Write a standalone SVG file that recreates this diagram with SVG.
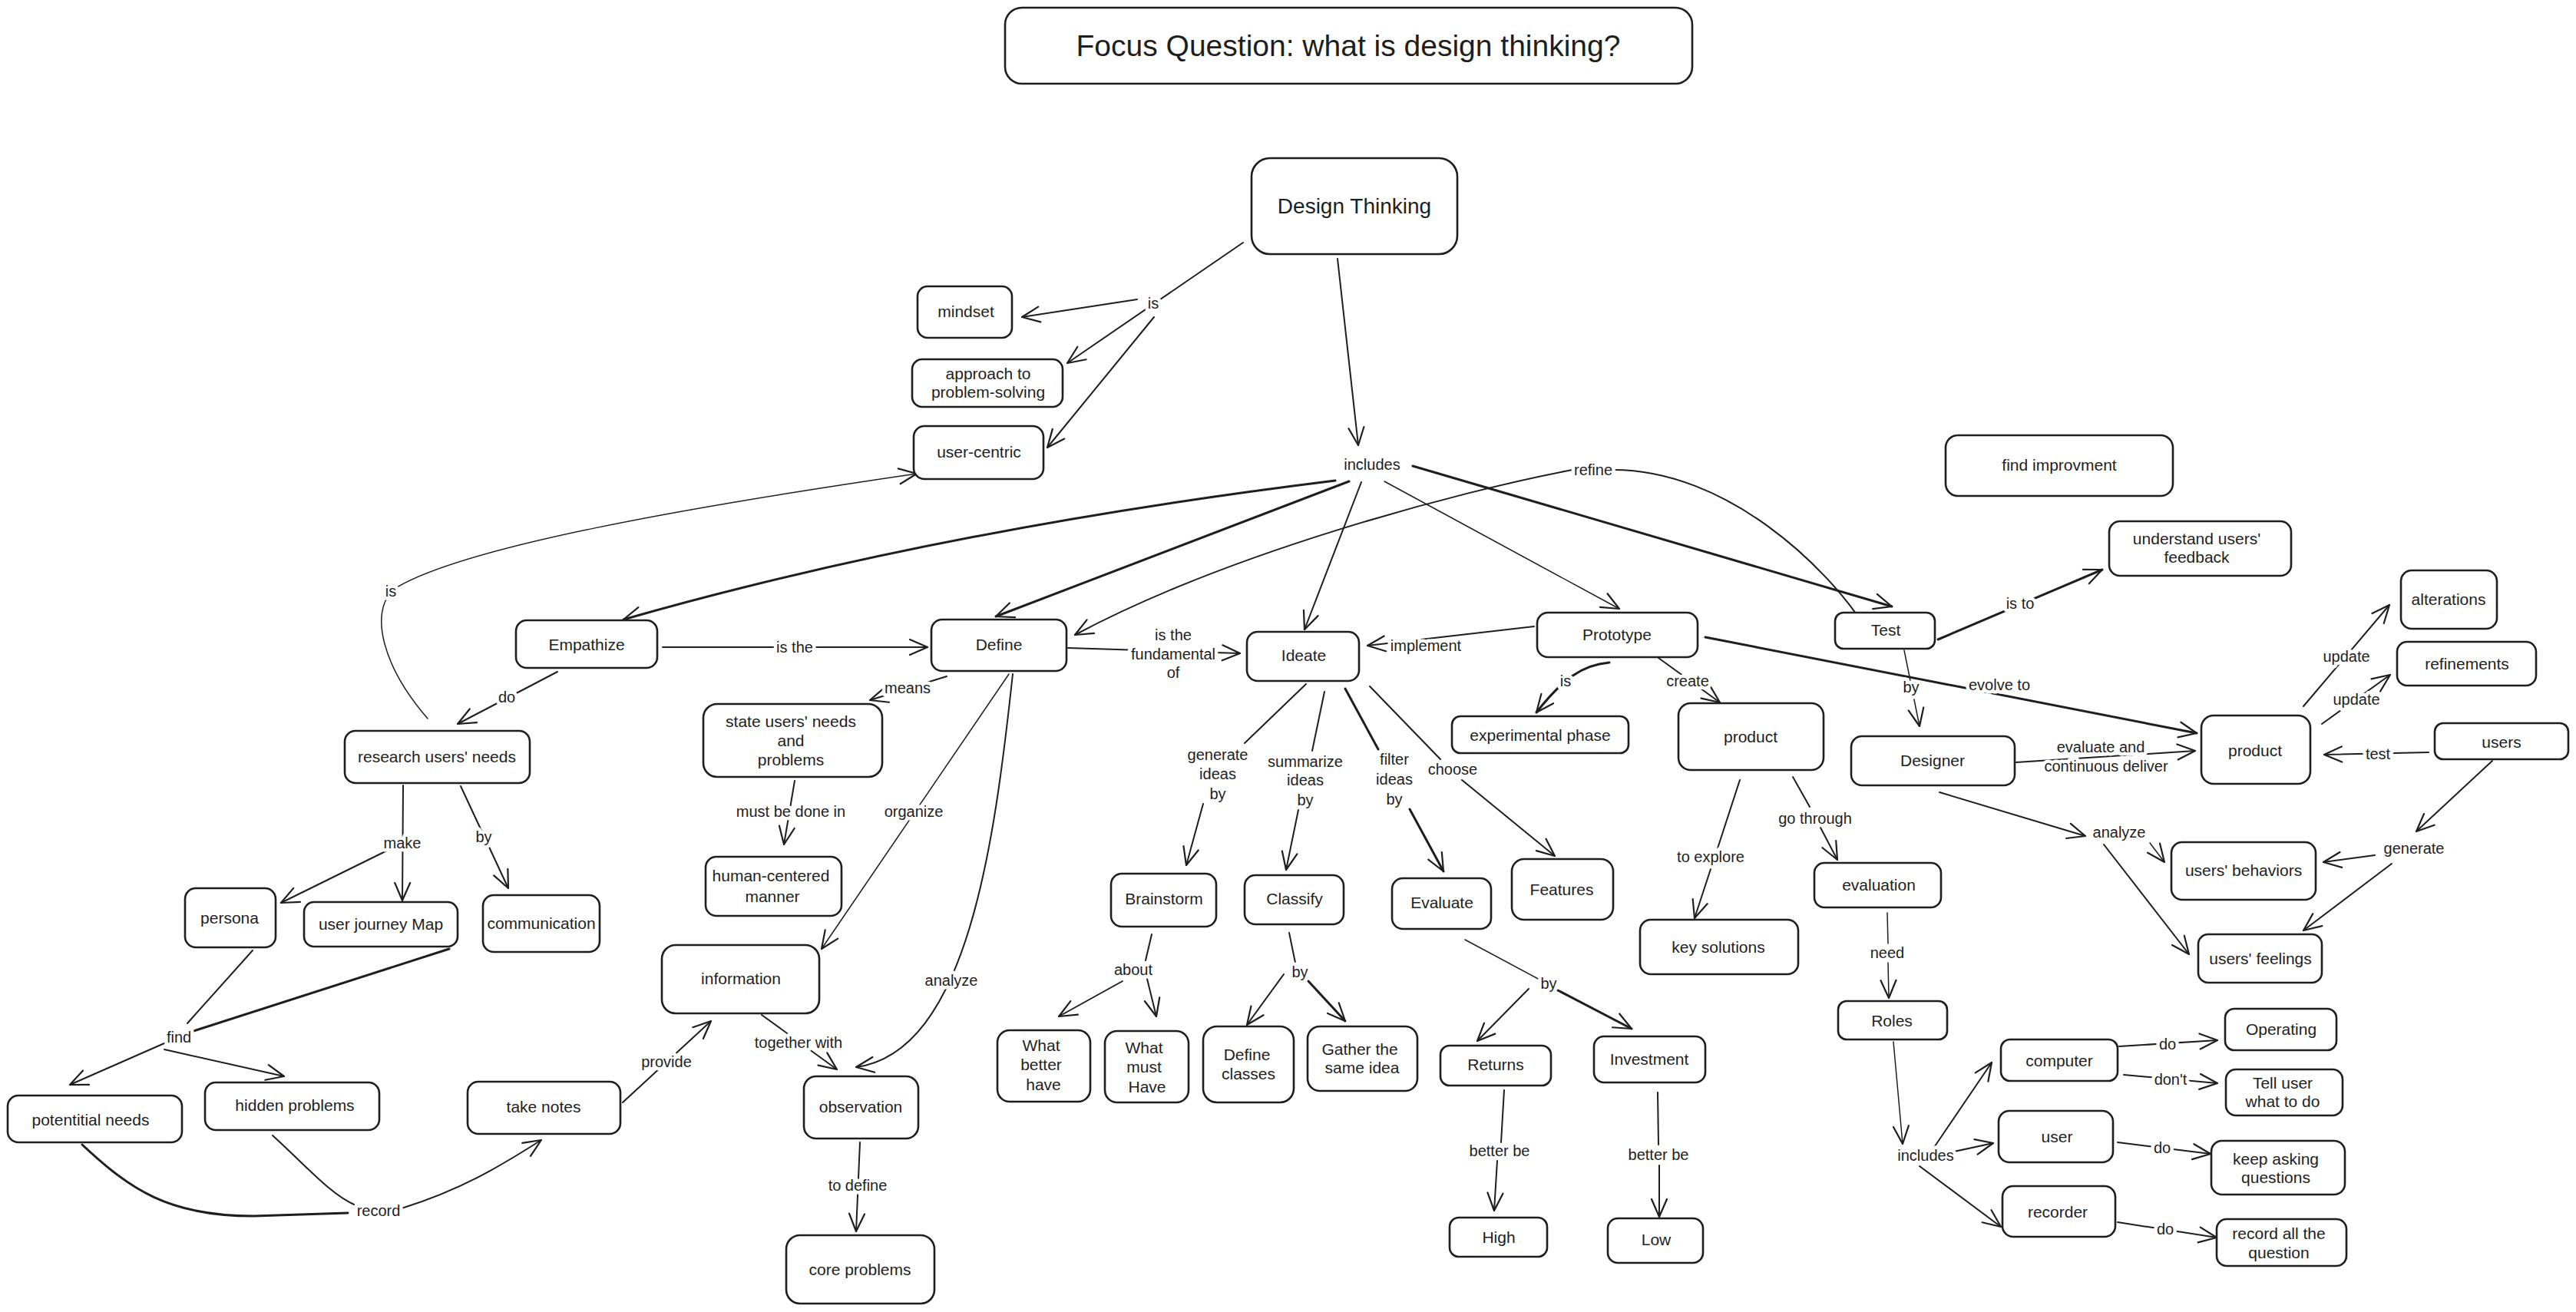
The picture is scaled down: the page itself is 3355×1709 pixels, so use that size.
<svg xmlns="http://www.w3.org/2000/svg" width="3355" height="1709" viewBox="0 0 3355 1709">
<defs>
<style>
.n rect{fill:#fff;stroke:#1e1e1e;stroke-width:2.6}
.t{font-family:"Liberation Sans",Arial,sans-serif;font-size:21px;fill:#1e1e1e;text-anchor:middle}
.c path{fill:none;stroke:#1e1e1e;stroke-width:2;stroke-linecap:round;stroke-linejoin:round}
.c path.k{stroke-width:3}
.c path.f{stroke-width:1.5}
.c path.a{marker-end:url(#ah)}
.lb{font-family:"Liberation Sans",Arial,sans-serif;font-size:20px;fill:#1e1e1e;text-anchor:middle;stroke:#fff;stroke-width:9px;paint-order:stroke;stroke-linejoin:round}
</style>
<marker id="ah" viewBox="0 0 28 24" refX="25" refY="12" markerWidth="28" markerHeight="24" markerUnits="userSpaceOnUse" orient="auto">
<path d="M2,2 L25,12 L2,22" fill="none" stroke="#1e1e1e" stroke-width="2.2" stroke-linecap="round" stroke-linejoin="round"/>
</marker>
</defs>
<rect x="0" y="0" width="3355" height="1709" fill="#fff"/>

<g id="connectors" class="c">
<!-- Design Thinking -->
<path class="a" d="M1619,316 L1390,473"/>
<path class="a" d="M1481,390 L1331,413"/>
<path class="a" d="M1503,413 L1364,583"/>
<path class="a" d="M1742,337 L1769,580"/>
<!-- includes -->
<path class="a k" d="M1739,626 Q1220,690 812,807"/>
<path class="a k" d="M1757,627 L1297,803"/>
<path class="a" d="M1773,628 L1699,820"/>
<path class="a f" d="M1803,627 L2109,793"/>
<path class="a k" d="M1840,607 L2464,790"/>
<path class="a" d="M2428,815 C2380,740 2250,612 2101,612 L2048,612 C1900,640 1600,720 1400,827"/>
<!-- left branch -->
<path class="a f" d="M557,936 C500,870 480,800 512,768 C600,712 900,660 1194,617"/>
<path class="a" d="M726,875 L596,943"/>
<path class="a" d="M863,843 L1208,843"/>
<path class="a" d="M525,1023 L524,1173"/>
<path class="a" d="M504,1108 L366,1176"/>
<path class="a" d="M600,1024 L662,1157"/>
<path d="M329,1238 L244,1333"/>
<path class="k" d="M585,1236 L249,1344"/>
<path class="a" d="M214,1359 L91,1413"/>
<path class="a" d="M214,1367 L370,1402"/>
<path class="k" d="M107,1491 C170,1550 220,1584 330,1584 L453,1580"/>
<path d="M355,1479 C400,1520 430,1555 461,1569"/>
<path class="a" d="M523,1574 C600,1550 650,1520 705,1485"/>
<path class="a" d="M811,1436 L926,1330"/>
<!-- Define -->
<path class="a" d="M1391,844 L1615,851"/>
<path class="a" d="M1233,881 L1133,912"/>
<path class="a" d="M1035,1017 L1021,1100"/>
<path class="a f" d="M1314,878 L1070,1236"/>
<path class="a" d="M1319,878 C1295,1100 1260,1370 1115,1390"/>
<path class="a" d="M992,1322 L1090,1393"/>
<path class="a" d="M1120,1488 L1115,1604"/>
<!-- Ideate -->
<path class="a" d="M1998,816 L1781,841"/>
<path class="a" d="M1701,891 L1621,968 M1567,1047 L1545,1127"/>
<path class="a" d="M1725,901 L1709,978 M1691,1055 L1675,1133"/>
<path class="a k" d="M1752,897 L1795,976 M1836,1054 L1880,1135"/>
<path class="a" d="M1784,894 L1876,989 M1904,1016 L2025,1115"/>
<path d="M1500,1217 L1492,1251"/>
<path class="a" d="M1462,1278 L1379,1324"/>
<path class="a" d="M1494,1275 L1506,1324"/>
<path d="M1679,1215 L1687,1254"/>
<path class="a" d="M1672,1269 L1624,1335"/>
<path class="a k" d="M1704,1278 L1752,1330"/>
<path class="f" d="M1908,1224 L2007,1277"/>
<path class="a k" d="M2029,1290 L2125,1340"/>
<path class="a" d="M1991,1288 L1924,1356"/>
<path class="a" d="M1959,1420 L1955,1488 M1950,1512 L1946,1577"/>
<path class="a" d="M2159,1423 L2160,1491 M2161,1518 L2161,1585"/>
<!-- Prototype -->
<path class="a k" d="M2096,863 C2060,866 2035,885 2001,928"/>
<path class="a" d="M2160,857 L2240,915"/>
<path class="a" d="M2266,1016 L2237,1105 M2229,1129 L2207,1196"/>
<path class="a" d="M2335,1012 L2357,1051 M2371,1078 L2393,1120"/>
<path class="a f" d="M2458,1189 L2459,1229 M2459,1254 L2460,1300"/>
<path class="a f" d="M2466,1357 L2478,1490"/>
<path class="a" d="M2520,1493 L2594,1384"/>
<path class="a" d="M2536,1502 L2596,1489"/>
<path class="a" d="M2500,1519 L2606,1598"/>
<path class="a" d="M2760,1363 L2888,1355"/>
<path class="a" d="M2766,1400 L2888,1411"/>
<path class="a" d="M2758,1488 L2879,1503"/>
<path class="a" d="M2758,1592 L2887,1612"/>
<!-- Test -->
<path class="a k" d="M2524,833 L2738,742"/>
<path class="a f" d="M2480,847 L2500,946"/>
<path class="a k" d="M2221,830 L2861,955"/>
<path class="a" d="M2626,993 L2859,978"/>
<path class="a" d="M3000,920 L3112,788"/>
<path class="a" d="M3024,943 L3113,879"/>
<path class="a" d="M3163,980 L3027,983"/>
<path class="a" d="M2526,1032 L2716,1089"/>
<path class="a f" d="M2800,1098 L2819,1123"/>
<path class="a" d="M2740,1100 L2851,1243"/>
<path class="a" d="M3246,991 L3147,1083"/>
<path class="a" d="M3093,1114 L3026,1123"/>
<path class="a" d="M3115,1125 L3000,1212"/>

<!-- labels -->
<text class="lb" x="1502" y="402">is</text>
<text class="lb" x="1787" y="612">includes</text>
<text class="lb" x="2075" y="619">refine</text>
<text class="lb" x="509" y="777">is</text>
<text class="lb" x="660" y="915">do</text>
<text class="lb" x="1035" y="850">is the</text>
<text class="lb" x="524" y="1105">make</text>
<text class="lb" x="630" y="1097">by</text>
<text class="lb" x="233" y="1358">find</text>
<text class="lb" x="493" y="1584">record</text>
<text class="lb" x="868" y="1390">provide</text>
<text class="lb" x="1528" y="834">is the</text>
<text class="lb" x="1528" y="859">fundamental</text>
<text class="lb" x="1528" y="883">of</text>
<text class="lb" x="1182" y="903">means</text>
<text class="lb" x="1030" y="1064">must be done in</text>
<text class="lb" x="1190" y="1064">organize</text>
<text class="lb" x="1239" y="1284">analyze</text>
<text class="lb" x="1040" y="1365">together with</text>
<text class="lb" x="1117" y="1551">to define</text>
<text class="lb" x="1857" y="848">implement</text>
<text class="lb" x="1586" y="990">generate</text>
<text class="lb" x="1586" y="1015">ideas</text>
<text class="lb" x="1586" y="1041">by</text>
<text class="lb" x="1700" y="999">summarize</text>
<text class="lb" x="1700" y="1023">ideas</text>
<text class="lb" x="1700" y="1049">by</text>
<text class="lb" x="1816" y="996">filter</text>
<text class="lb" x="1816" y="1022">ideas</text>
<text class="lb" x="1816" y="1048">by</text>
<text class="lb" x="1892" y="1009">choose</text>
<text class="lb" x="1476" y="1270">about</text>
<text class="lb" x="1693" y="1273">by</text>
<text class="lb" x="2017" y="1288">by</text>
<text class="lb" x="1953" y="1506">better be</text>
<text class="lb" x="2160" y="1511">better be</text>
<text class="lb" x="2039" y="894">is</text>
<text class="lb" x="2198" y="894">create</text>
<text class="lb" x="2228" y="1123">to explore</text>
<text class="lb" x="2364" y="1073">go through</text>
<text class="lb" x="2458" y="1248">need</text>
<text class="lb" x="2508" y="1512">includes</text>
<text class="lb" x="2823" y="1367">do</text>
<text class="lb" x="2827" y="1413">don't</text>
<text class="lb" x="2816" y="1502">do</text>
<text class="lb" x="2820" y="1608">do</text>
<text class="lb" x="2631" y="793">is to</text>
<text class="lb" x="2489" y="902">by</text>
<text class="lb" x="2604" y="899">evolve to</text>
<text class="lb" x="2736" y="980">evaluate and</text>
<text class="lb" x="2743" y="1005">continuous deliver</text>
<text class="lb" x="3056" y="862">update</text>
<text class="lb" x="3069" y="918">update</text>
<text class="lb" x="3097" y="989">test</text>
<text class="lb" x="2760" y="1091">analyze</text>
<text class="lb" x="3144" y="1112">generate</text>
</g>

<g id="title" class="n"><rect x="1309" y="10" width="895" height="99" rx="22"/><text class="t" x="1756" y="73" style="font-size:39px">Focus Question: what is design thinking?</text></g>
<g id="design-thinking" class="n"><rect x="1630" y="206" width="268" height="125" rx="24"/><text class="t" x="1764" y="278" style="font-size:28px">Design Thinking</text></g>
<g id="mindset" class="n"><rect x="1195" y="373" width="123" height="67" rx="13"/><text class="t" x="1258" y="413">mindset</text></g>
<g id="approach" class="n"><rect x="1188" y="468" width="196" height="62" rx="13"/><text class="t" x="1287" y="494">approach to</text><text class="t" x="1287" y="518">problem-solving</text></g>
<g id="user-centric" class="n"><rect x="1190" y="555" width="169" height="69" rx="14"/><text class="t" x="1275" y="596">user-centric</text></g>
<g id="empathize" class="n"><rect x="672" y="808" width="184" height="62" rx="14"/><text class="t" x="764" y="847">Empathize</text></g>
<g id="define" class="n"><rect x="1213" y="807" width="176" height="67" rx="14"/><text class="t" x="1301" y="847">Define</text></g>
<g id="ideate" class="n"><rect x="1624" y="823" width="146" height="64" rx="14"/><text class="t" x="1698" y="861">Ideate</text></g>
<g id="prototype" class="n"><rect x="2002" y="798" width="209" height="58" rx="14"/><text class="t" x="2106" y="834">Prototype</text></g>
<g id="test" class="n"><rect x="2390" y="798" width="130" height="47" rx="11"/><text class="t" x="2456" y="828">Test</text></g>
<g id="find-improvment" class="n"><rect x="2534" y="567" width="296" height="79" rx="16"/><text class="t" x="2682" y="613">find improvment</text></g>
<g id="feedback" class="n"><rect x="2747" y="679" width="237" height="71" rx="14"/><text class="t" x="2861" y="709">understand users'</text><text class="t" x="2861" y="733">feedback</text></g>
<g id="alterations" class="n"><rect x="3127" y="743" width="125" height="76" rx="14"/><text class="t" x="3189" y="788">alterations</text></g>
<g id="refinements" class="n"><rect x="3122" y="836" width="181" height="57" rx="13"/><text class="t" x="3213" y="872">refinements</text></g>
<g id="product-right" class="n"><rect x="2867" y="932" width="142" height="89" rx="16"/><text class="t" x="2937" y="985">product</text></g>
<g id="designer" class="n"><rect x="2411" y="959" width="213" height="64" rx="14"/><text class="t" x="2517" y="998">Designer</text></g>
<g id="users" class="n"><rect x="3171" y="942" width="174" height="47" rx="11"/><text class="t" x="3258" y="974">users</text></g>
<g id="behaviors" class="n"><rect x="2828" y="1097" width="188" height="75" rx="14"/><text class="t" x="2922" y="1141">users' behaviors</text></g>
<g id="feelings" class="n"><rect x="2863" y="1217" width="161" height="63" rx="13"/><text class="t" x="2944" y="1256">users' feelings</text></g>
<g id="research" class="n"><rect x="449" y="952" width="241" height="68" rx="14"/><text class="t" x="569" y="993">research users' needs</text></g>
<g id="persona" class="n"><rect x="241" y="1157" width="118" height="77" rx="14"/><text class="t" x="299" y="1203">persona</text></g>
<g id="journey-map" class="n"><rect x="396" y="1175" width="200" height="58" rx="13"/><text class="t" x="496" y="1211">user journey Map</text></g>
<g id="communication" class="n"><rect x="629" y="1166" width="152" height="74" rx="14"/><text class="t" x="705" y="1210">communication</text></g>
<g id="potential-needs" class="n"><rect x="10" y="1427" width="227" height="61" rx="14"/><text class="t" x="118" y="1466">potentitial needs</text></g>
<g id="hidden-problems" class="n"><rect x="267" y="1410" width="227" height="62" rx="14"/><text class="t" x="384" y="1447">hidden problems</text></g>
<g id="take-notes" class="n"><rect x="609" y="1409" width="199" height="68" rx="14"/><text class="t" x="708" y="1449">take notes</text></g>
<g id="state-needs" class="n"><rect x="916" y="917" width="233" height="95" rx="18"/><text class="t" x="1030" y="947">state users' needs</text><text class="t" x="1030" y="972">and</text><text class="t" x="1030" y="997">problems</text></g>
<g id="human-centered" class="n"><rect x="919" y="1116" width="177" height="77" rx="14"/><text class="t" x="1004" y="1148">human-centered</text><text class="t" x="1006" y="1175">manner</text></g>
<g id="information" class="n"><rect x="862" y="1231" width="205" height="89" rx="18"/><text class="t" x="965" y="1282">information</text></g>
<g id="observation" class="n"><rect x="1047" y="1402" width="149" height="81" rx="16"/><text class="t" x="1121" y="1449">observation</text></g>
<g id="core-problems" class="n"><rect x="1024" y="1609" width="193" height="89" rx="18"/><text class="t" x="1120" y="1661">core problems</text></g>
<g id="experimental" class="n"><rect x="1891" y="933" width="230" height="48" rx="11"/><text class="t" x="2006" y="965">experimental phase</text></g>
<g id="product-mid" class="n"><rect x="2186" y="916" width="189" height="87" rx="16"/><text class="t" x="2280" y="967">product</text></g>
<g id="brainstorm" class="n"><rect x="1447" y="1138" width="137" height="69" rx="14"/><text class="t" x="1516" y="1178">Brainstorm</text></g>
<g id="classify" class="n"><rect x="1621" y="1140" width="129" height="64" rx="14"/><text class="t" x="1686" y="1178">Classify</text></g>
<g id="evaluate" class="n"><rect x="1813" y="1144" width="129" height="66" rx="14"/><text class="t" x="1878" y="1183">Evaluate</text></g>
<g id="features" class="n"><rect x="1969" y="1119" width="132" height="79" rx="16"/><text class="t" x="2034" y="1166">Features</text></g>
<g id="what-better" class="n"><rect x="1299" y="1342" width="121" height="93" rx="16"/><text class="t" x="1356" y="1369">What</text><text class="t" x="1356" y="1394">better</text><text class="t" x="1359" y="1420">have</text></g>
<g id="what-must" class="n"><rect x="1439" y="1343" width="109" height="93" rx="16"/><text class="t" x="1490" y="1372">What</text><text class="t" x="1490" y="1397">must</text><text class="t" x="1494" y="1423">Have</text></g>
<g id="define-classes" class="n"><rect x="1567" y="1337" width="118" height="99" rx="18"/><text class="t" x="1624" y="1381">Define</text><text class="t" x="1626" y="1406">classes</text></g>
<g id="gather" class="n"><rect x="1703" y="1337" width="143" height="84" rx="16"/><text class="t" x="1771" y="1374">Gather the</text><text class="t" x="1774" y="1398">same idea</text></g>
<g id="returns" class="n"><rect x="1876" y="1362" width="144" height="52" rx="12"/><text class="t" x="1948" y="1394">Returns</text></g>
<g id="investment" class="n"><rect x="2076" y="1350" width="145" height="60" rx="13"/><text class="t" x="2148" y="1387">Investment</text></g>
<g id="high" class="n"><rect x="1888" y="1586" width="127" height="51" rx="12"/><text class="t" x="1952" y="1619">High</text></g>
<g id="low" class="n"><rect x="2094" y="1587" width="124" height="58" rx="13"/><text class="t" x="2157" y="1622">Low</text></g>
<g id="key-solutions" class="n"><rect x="2136" y="1198" width="206" height="71" rx="14"/><text class="t" x="2238" y="1241">key solutions</text></g>
<g id="evaluation" class="n"><rect x="2363" y="1124" width="165" height="58" rx="13"/><text class="t" x="2447" y="1160">evaluation</text></g>
<g id="roles" class="n"><rect x="2394" y="1304" width="142" height="50" rx="11"/><text class="t" x="2464" y="1337">Roles</text></g>
<g id="computer" class="n"><rect x="2606" y="1354" width="152" height="54" rx="12"/><text class="t" x="2682" y="1389">computer</text></g>
<g id="user" class="n"><rect x="2603" y="1447" width="149" height="67" rx="14"/><text class="t" x="2679" y="1488">user</text></g>
<g id="recorder" class="n"><rect x="2608" y="1545" width="147" height="66" rx="14"/><text class="t" x="2680" y="1586">recorder</text></g>
<g id="operating" class="n"><rect x="2898" y="1314" width="145" height="54" rx="12"/><text class="t" x="2971" y="1348">Operating</text></g>
<g id="tell-user" class="n"><rect x="2899" y="1393" width="152" height="60" rx="13"/><text class="t" x="2973" y="1418">Tell user</text><text class="t" x="2973" y="1442">what to do</text></g>
<g id="keep-asking" class="n"><rect x="2880" y="1486" width="174" height="70" rx="14"/><text class="t" x="2964" y="1517">keep asking</text><text class="t" x="2964" y="1541">questions</text></g>
<g id="record-all" class="n"><rect x="2887" y="1588" width="169" height="61" rx="13"/><text class="t" x="2968" y="1614">record all the</text><text class="t" x="2968" y="1639">question</text></g>
</svg>
